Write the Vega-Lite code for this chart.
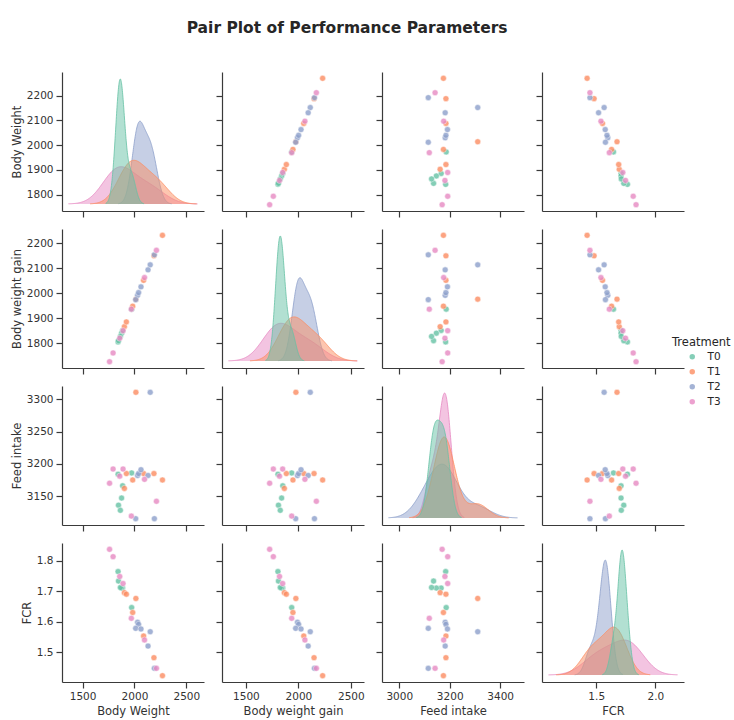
{
  "$schema": "https://vega.github.io/schema/vega-lite/v6.json",
  "padding": {"left": 11, "top": 20, "right": 0, "bottom": 2},
  "background": "white",
  "title": {"text": "Pair Plot of Performance Parameters", "font": "DejaVu Sans", "fontSize": 15.5, "fontWeight": "bold", "color": "#262626", "anchor": "middle", "offset": 36, "dx": -24},
  "datasets": {
    "d": [
      {"Treatment": "T0", "Body Weight": 1842, "Body weight gain": 1805, "Feed intake": 3184, "FCR": 1.764},
      {"Treatment": "T0", "Body Weight": 1973, "Body weight gain": 1936, "Feed intake": 3186, "FCR": 1.646},
      {"Treatment": "T0", "Body Weight": 1886, "Body weight gain": 1851, "Feed intake": 3166, "FCR": 1.710},
      {"Treatment": "T0", "Body Weight": 1876, "Body weight gain": 1840, "Feed intake": 3147, "FCR": 1.710},
      {"Treatment": "T0", "Body Weight": 1846, "Body weight gain": 1810, "Feed intake": 3136, "FCR": 1.733},
      {"Treatment": "T0", "Body Weight": 1864, "Body weight gain": 1827, "Feed intake": 3128, "FCR": 1.712},
      {"Treatment": "T1", "Body Weight": 1903, "Body weight gain": 1866, "Feed intake": 3162, "FCR": 1.695},
      {"Treatment": "T1", "Body Weight": 1922, "Body weight gain": 1885, "Feed intake": 3185, "FCR": 1.690},
      {"Treatment": "T1", "Body Weight": 2014, "Body weight gain": 1976, "Feed intake": 3311, "FCR": 1.676},
      {"Treatment": "T1", "Body Weight": 1983, "Body weight gain": 1948, "Feed intake": 3175, "FCR": 1.630},
      {"Treatment": "T1", "Body Weight": 2088, "Body weight gain": 2051, "Feed intake": 3185, "FCR": 1.553},
      {"Treatment": "T1", "Body Weight": 2188, "Body weight gain": 2149, "Feed intake": 3185, "FCR": 1.482},
      {"Treatment": "T1", "Body Weight": 2270, "Body weight gain": 2231, "Feed intake": 3175, "FCR": 1.423},
      {"Treatment": "T2", "Body Weight": 2030, "Body weight gain": 1991, "Feed intake": 3182, "FCR": 1.598},
      {"Treatment": "T2", "Body Weight": 2040, "Body weight gain": 2002, "Feed intake": 3185, "FCR": 1.591},
      {"Treatment": "T2", "Body Weight": 2012, "Body weight gain": 1974, "Feed intake": 3115, "FCR": 1.578},
      {"Treatment": "T2", "Body Weight": 2063, "Body weight gain": 2025, "Feed intake": 3191, "FCR": 1.576},
      {"Treatment": "T2", "Body Weight": 2152, "Body weight gain": 2113, "Feed intake": 3311, "FCR": 1.567},
      {"Treatment": "T2", "Body Weight": 2131, "Body weight gain": 2093, "Feed intake": 3182, "FCR": 1.520},
      {"Treatment": "T2", "Body Weight": 2192, "Body weight gain": 2153, "Feed intake": 3115, "FCR": 1.447},
      {"Treatment": "T3", "Body Weight": 1760, "Body weight gain": 1726, "Feed intake": 3170, "FCR": 1.837},
      {"Treatment": "T3", "Body Weight": 1794, "Body weight gain": 1761, "Feed intake": 3192, "FCR": 1.813},
      {"Treatment": "T3", "Body Weight": 1858, "Body weight gain": 1820, "Feed intake": 3181, "FCR": 1.748},
      {"Treatment": "T3", "Body Weight": 1890, "Body weight gain": 1850, "Feed intake": 3192, "FCR": 1.725},
      {"Treatment": "T3", "Body Weight": 1970, "Body weight gain": 1936, "Feed intake": 3119, "FCR": 1.611},
      {"Treatment": "T3", "Body Weight": 2097, "Body weight gain": 2062, "Feed intake": 3176, "FCR": 1.540},
      {"Treatment": "T3", "Body Weight": 2212, "Body weight gain": 2171, "Feed intake": 3142, "FCR": 1.447}
    ]
  },
  "data": {"name": "d"},
  "columns": 4,
  "spacing": {"row": 18, "column": 18},
  "bounds": "flush",
  "resolve": {"scale": {"color": "independent"}, "legend": {"color": "independent"}},
  "concat": [
    {
      "width": 142, "height": 139,
      "layer": [
        {"layer": [
          {"transform": [{"filter": {"field": "Treatment", "equal": "T3"}}, {"density": "Body Weight", "groupby": ["Treatment"], "bandwidth": 132.1, "extent": [1363.7, 2608.3], "steps": 200, "counts": true, "as": ["value", "density"]}],
           "mark": {"type": "area", "fillOpacity": 0.5, "line": {"strokeWidth": 1, "strokeOpacity": 0.8}},
           "encoding": {"x": {"field": "value", "type": "quantitative", "scale": {"domain": [1301.5, 2670.5], "zero": false, "nice": false}, "axis": null},
                        "y": {"field": "density", "type": "quantitative", "stack": null, "scale": {"domainMin": 0, "zero": false, "nice": false, "padding": 7}, "axis": null},
                        "color": {"field": "Treatment", "type": "nominal", "scale": {"domain": ["T0", "T1", "T2", "T3"], "range": ["#66c2a5", "#fc8d62", "#8da0cb", "#e78ac3"]}, "legend": null}}},
          {"transform": [{"filter": {"field": "Treatment", "equal": "T2"}}, {"density": "Body Weight", "groupby": ["Treatment"], "bandwidth": 55.7, "extent": [1844.9, 2359.1], "steps": 200, "counts": true, "as": ["value", "density"]}],
           "mark": {"type": "area", "fillOpacity": 0.5, "line": {"strokeWidth": 1, "strokeOpacity": 0.8}},
           "encoding": {"x": {"field": "value", "type": "quantitative", "scale": {"domain": [1301.5, 2670.5], "zero": false, "nice": false}, "axis": null},
                        "y": {"field": "density", "type": "quantitative", "stack": null, "scale": {"domainMin": 0, "zero": false, "nice": false, "padding": 7}, "axis": null},
                        "color": {"field": "Treatment", "type": "nominal", "scale": {"domain": ["T0", "T1", "T2", "T3"], "range": ["#66c2a5", "#fc8d62", "#8da0cb", "#e78ac3"]}, "legend": null}}},
          {"transform": [{"filter": {"field": "Treatment", "equal": "T1"}}, {"density": "Body Weight", "groupby": ["Treatment"], "bandwidth": 110.0, "extent": [1573, 2600], "steps": 200, "counts": true, "as": ["value", "density"]}],
           "mark": {"type": "area", "fillOpacity": 0.5, "line": {"strokeWidth": 1, "strokeOpacity": 0.8}},
           "encoding": {"x": {"field": "value", "type": "quantitative", "scale": {"domain": [1301.5, 2670.5], "zero": false, "nice": false}, "axis": null},
                        "y": {"field": "density", "type": "quantitative", "stack": null, "scale": {"domainMin": 0, "zero": false, "nice": false, "padding": 7}, "axis": null},
                        "color": {"field": "Treatment", "type": "nominal", "scale": {"domain": ["T0", "T1", "T2", "T3"], "range": ["#66c2a5", "#fc8d62", "#8da0cb", "#e78ac3"]}, "legend": null}}},
          {"transform": [{"filter": {"field": "Treatment", "equal": "T0"}}, {"density": "Body Weight", "groupby": ["Treatment"], "bandwidth": 39.8, "extent": [1722.6, 2092.4], "steps": 200, "counts": true, "as": ["value", "density"]}],
           "mark": {"type": "area", "fillOpacity": 0.5, "line": {"strokeWidth": 1, "strokeOpacity": 0.8}},
           "encoding": {"x": {"field": "value", "type": "quantitative", "scale": {"domain": [1301.5, 2670.5], "zero": false, "nice": false}, "axis": null},
                        "y": {"field": "density", "type": "quantitative", "stack": null, "scale": {"domainMin": 0, "zero": false, "nice": false, "padding": 7}, "axis": null},
                        "color": {"field": "Treatment", "type": "nominal", "scale": {"domain": ["T0", "T1", "T2", "T3"], "range": ["#66c2a5", "#fc8d62", "#8da0cb", "#e78ac3"]}, "legend": null}}}
        ]},
        {"mark": {"type": "point", "opacity": 0},
         "encoding": {"x": {"field": "Body Weight", "type": "quantitative", "scale": {"domain": [1301.5, 2670.5], "zero": false, "nice": false}, "axis": {"values": [1500, 2000, 2500], "labels": false, "title": null}},
                      "y": {"field": "Body Weight", "type": "quantitative", "scale": {"domain": [1734.5, 2295.5], "zero": false, "nice": false}, "axis": {"values": [1800, 1900, 2000, 2100, 2200], "title": "Body Weight", "format": "d"}}}}
      ],
      "resolve": {"scale": {"x": "independent", "y": "independent"}}
    },
    {
      "width": 142, "height": 139,
      "mark": {"type": "circle", "size": 36, "opacity": 0.8, "stroke": "#ffffff", "strokeWidth": 0.5},
      "encoding": {"x": {"field": "Body weight gain", "type": "quantitative", "scale": {"domain": [1271.8, 2625.2], "zero": false, "nice": false}, "axis": {"values": [1500, 2000, 2500], "labels": false, "title": null}},
                   "y": {"field": "Body Weight", "type": "quantitative", "scale": {"domain": [1734.5, 2295.5], "zero": false, "nice": false}, "axis": {"values": [1800, 1900, 2000, 2100, 2200], "labels": false, "title": null}},
                   "color": {"field": "Treatment", "type": "nominal", "scale": {"domain": ["T0", "T1", "T2", "T3"], "range": ["#66c2a5", "#fc8d62", "#8da0cb", "#e78ac3"]}, "legend": null}}
    },
    {
      "width": 142, "height": 139,
      "mark": {"type": "circle", "size": 36, "opacity": 0.8, "stroke": "#ffffff", "strokeWidth": 0.5},
      "encoding": {"x": {"field": "Feed intake", "type": "quantitative", "scale": {"domain": [2931.6, 3494.4], "zero": false, "nice": false}, "axis": {"values": [3000, 3200, 3400], "labels": false, "title": null}},
                   "y": {"field": "Body Weight", "type": "quantitative", "scale": {"domain": [1734.5, 2295.5], "zero": false, "nice": false}, "axis": {"values": [1800, 1900, 2000, 2100, 2200], "labels": false, "title": null}},
                   "color": {"field": "Treatment", "type": "nominal", "scale": {"domain": ["T0", "T1", "T2", "T3"], "range": ["#66c2a5", "#fc8d62", "#8da0cb", "#e78ac3"]}, "legend": null}}
    },
    {
      "width": 142, "height": 139,
      "mark": {"type": "circle", "size": 36, "opacity": 0.8, "stroke": "#ffffff", "strokeWidth": 0.5},
      "encoding": {"x": {"field": "FCR", "type": "quantitative", "scale": {"domain": [1.0414, 2.2426], "zero": false, "nice": false}, "axis": {"values": [1.5, 2.0], "labels": false, "title": null}},
                   "y": {"field": "Body Weight", "type": "quantitative", "scale": {"domain": [1734.5, 2295.5], "zero": false, "nice": false}, "axis": {"values": [1800, 1900, 2000, 2100, 2200], "labels": false, "title": null}},
                   "color": {"field": "Treatment", "type": "nominal", "scale": {"domain": ["T0", "T1", "T2", "T3"], "range": ["#66c2a5", "#fc8d62", "#8da0cb", "#e78ac3"]}, "legend": null}}
    },
    {
      "width": 142, "height": 139,
      "mark": {"type": "circle", "size": 36, "opacity": 0.8, "stroke": "#ffffff", "strokeWidth": 0.5},
      "encoding": {"x": {"field": "Body Weight", "type": "quantitative", "scale": {"domain": [1301.5, 2670.5], "zero": false, "nice": false}, "axis": {"values": [1500, 2000, 2500], "labels": false, "title": null}},
                   "y": {"field": "Body weight gain", "type": "quantitative", "scale": {"domain": [1700.75, 2256.25], "zero": false, "nice": false}, "axis": {"values": [1800, 1900, 2000, 2100, 2200], "title": "Body weight gain", "format": "d"}},
                   "color": {"field": "Treatment", "type": "nominal", "scale": {"domain": ["T0", "T1", "T2", "T3"], "range": ["#66c2a5", "#fc8d62", "#8da0cb", "#e78ac3"]}, "legend": null}}
    },
    {
      "width": 142, "height": 139,
      "layer": [
        {"layer": [
          {"transform": [{"filter": {"field": "Treatment", "equal": "T3"}}, {"density": "Body weight gain", "groupby": ["Treatment"], "bandwidth": 130.9, "extent": [1333.3, 2563.7], "steps": 200, "counts": true, "as": ["value", "density"]}],
           "mark": {"type": "area", "fillOpacity": 0.5, "line": {"strokeWidth": 1, "strokeOpacity": 0.8}},
           "encoding": {"x": {"field": "value", "type": "quantitative", "scale": {"domain": [1271.8, 2625.2], "zero": false, "nice": false}, "axis": null},
                        "y": {"field": "density", "type": "quantitative", "stack": null, "scale": {"domainMin": 0, "zero": false, "nice": false, "padding": 7}, "axis": null},
                        "color": {"field": "Treatment", "type": "nominal", "scale": {"domain": ["T0", "T1", "T2", "T3"], "range": ["#66c2a5", "#fc8d62", "#8da0cb", "#e78ac3"]}, "legend": null}}},
          {"transform": [{"filter": {"field": "Treatment", "equal": "T2"}}, {"density": "Body weight gain", "groupby": ["Treatment"], "bandwidth": 55.4, "extent": [1807.8, 2319.2], "steps": 200, "counts": true, "as": ["value", "density"]}],
           "mark": {"type": "area", "fillOpacity": 0.5, "line": {"strokeWidth": 1, "strokeOpacity": 0.8}},
           "encoding": {"x": {"field": "value", "type": "quantitative", "scale": {"domain": [1271.8, 2625.2], "zero": false, "nice": false}, "axis": null},
                        "y": {"field": "density", "type": "quantitative", "stack": null, "scale": {"domainMin": 0, "zero": false, "nice": false, "padding": 7}, "axis": null},
                        "color": {"field": "Treatment", "type": "nominal", "scale": {"domain": ["T0", "T1", "T2", "T3"], "range": ["#66c2a5", "#fc8d62", "#8da0cb", "#e78ac3"]}, "legend": null}}},
          {"transform": [{"filter": {"field": "Treatment", "equal": "T1"}}, {"density": "Body weight gain", "groupby": ["Treatment"], "bandwidth": 109.2, "extent": [1538.4, 2558.6], "steps": 200, "counts": true, "as": ["value", "density"]}],
           "mark": {"type": "area", "fillOpacity": 0.5, "line": {"strokeWidth": 1, "strokeOpacity": 0.8}},
           "encoding": {"x": {"field": "value", "type": "quantitative", "scale": {"domain": [1271.8, 2625.2], "zero": false, "nice": false}, "axis": null},
                        "y": {"field": "density", "type": "quantitative", "stack": null, "scale": {"domainMin": 0, "zero": false, "nice": false, "padding": 7}, "axis": null},
                        "color": {"field": "Treatment", "type": "nominal", "scale": {"domain": ["T0", "T1", "T2", "T3"], "range": ["#66c2a5", "#fc8d62", "#8da0cb", "#e78ac3"]}, "legend": null}}},
          {"transform": [{"filter": {"field": "Treatment", "equal": "T0"}}, {"density": "Body weight gain", "groupby": ["Treatment"], "bandwidth": 39.7, "extent": [1685.9, 2055.1], "steps": 200, "counts": true, "as": ["value", "density"]}],
           "mark": {"type": "area", "fillOpacity": 0.5, "line": {"strokeWidth": 1, "strokeOpacity": 0.8}},
           "encoding": {"x": {"field": "value", "type": "quantitative", "scale": {"domain": [1271.8, 2625.2], "zero": false, "nice": false}, "axis": null},
                        "y": {"field": "density", "type": "quantitative", "stack": null, "scale": {"domainMin": 0, "zero": false, "nice": false, "padding": 7}, "axis": null},
                        "color": {"field": "Treatment", "type": "nominal", "scale": {"domain": ["T0", "T1", "T2", "T3"], "range": ["#66c2a5", "#fc8d62", "#8da0cb", "#e78ac3"]}, "legend": null}}}
        ]},
        {"mark": {"type": "point", "opacity": 0},
         "encoding": {"x": {"field": "Body weight gain", "type": "quantitative", "scale": {"domain": [1271.8, 2625.2], "zero": false, "nice": false}, "axis": {"values": [1500, 2000, 2500], "labels": false, "title": null}},
                      "y": {"field": "Body weight gain", "type": "quantitative", "scale": {"domain": [1700.75, 2256.25], "zero": false, "nice": false}, "axis": {"values": [1800, 1900, 2000, 2100, 2200], "labels": false, "title": null}}}}
      ],
      "resolve": {"scale": {"x": "independent", "y": "independent"}}
    },
    {
      "width": 142, "height": 139,
      "mark": {"type": "circle", "size": 36, "opacity": 0.8, "stroke": "#ffffff", "strokeWidth": 0.5},
      "encoding": {"x": {"field": "Feed intake", "type": "quantitative", "scale": {"domain": [2931.6, 3494.4], "zero": false, "nice": false}, "axis": {"values": [3000, 3200, 3400], "labels": false, "title": null}},
                   "y": {"field": "Body weight gain", "type": "quantitative", "scale": {"domain": [1700.75, 2256.25], "zero": false, "nice": false}, "axis": {"values": [1800, 1900, 2000, 2100, 2200], "labels": false, "title": null}},
                   "color": {"field": "Treatment", "type": "nominal", "scale": {"domain": ["T0", "T1", "T2", "T3"], "range": ["#66c2a5", "#fc8d62", "#8da0cb", "#e78ac3"]}, "legend": null}}
    },
    {
      "width": 142, "height": 139,
      "mark": {"type": "circle", "size": 36, "opacity": 0.8, "stroke": "#ffffff", "strokeWidth": 0.5},
      "encoding": {"x": {"field": "FCR", "type": "quantitative", "scale": {"domain": [1.0414, 2.2426], "zero": false, "nice": false}, "axis": {"values": [1.5, 2.0], "labels": false, "title": null}},
                   "y": {"field": "Body weight gain", "type": "quantitative", "scale": {"domain": [1700.75, 2256.25], "zero": false, "nice": false}, "axis": {"values": [1800, 1900, 2000, 2100, 2200], "labels": false, "title": null}},
                   "color": {"field": "Treatment", "type": "nominal", "scale": {"domain": ["T0", "T1", "T2", "T3"], "range": ["#66c2a5", "#fc8d62", "#8da0cb", "#e78ac3"]},
                             "legend": {"orient": "none", "legendX": 130, "legendY": 108, "title": "Treatment", "padding": 0, "titleFontSize": 11.5, "titleFontWeight": "normal", "titleFont": "DejaVu Sans", "titleColor": "#262626", "titlePadding": 3, "labelFont": "DejaVu Sans", "labelFontSize": 10.5, "labelColor": "#262626", "labelOffset": 10, "symbolType": "circle", "symbolSize": 30, "symbolOpacity": 0.8, "symbolStrokeWidth": 0, "symbolOffset": 15, "rowPadding": 4}}}
    },
    {
      "width": 142, "height": 139,
      "mark": {"type": "circle", "size": 36, "opacity": 0.8, "stroke": "#ffffff", "strokeWidth": 0.5},
      "encoding": {"x": {"field": "Body Weight", "type": "quantitative", "scale": {"domain": [1301.5, 2670.5], "zero": false, "nice": false}, "axis": {"values": [1500, 2000, 2500], "labels": false, "title": null}},
                   "y": {"field": "Feed intake", "type": "quantitative", "scale": {"domain": [3105.2, 3320.8], "zero": false, "nice": false}, "axis": {"values": [3150, 3200, 3250, 3300], "title": "Feed intake", "format": "d"}},
                   "color": {"field": "Treatment", "type": "nominal", "scale": {"domain": ["T0", "T1", "T2", "T3"], "range": ["#66c2a5", "#fc8d62", "#8da0cb", "#e78ac3"]}, "legend": null}}
    },
    {
      "width": 142, "height": 139,
      "mark": {"type": "circle", "size": 36, "opacity": 0.8, "stroke": "#ffffff", "strokeWidth": 0.5},
      "encoding": {"x": {"field": "Body weight gain", "type": "quantitative", "scale": {"domain": [1271.8, 2625.2], "zero": false, "nice": false}, "axis": {"values": [1500, 2000, 2500], "labels": false, "title": null}},
                   "y": {"field": "Feed intake", "type": "quantitative", "scale": {"domain": [3105.2, 3320.8], "zero": false, "nice": false}, "axis": {"values": [3150, 3200, 3250, 3300], "labels": false, "title": null}},
                   "color": {"field": "Treatment", "type": "nominal", "scale": {"domain": ["T0", "T1", "T2", "T3"], "range": ["#66c2a5", "#fc8d62", "#8da0cb", "#e78ac3"]}, "legend": null}}
    },
    {
      "width": 142, "height": 139,
      "layer": [
        {"layer": [
          {"transform": [{"filter": {"field": "Treatment", "equal": "T3"}}, {"density": "Feed intake", "groupby": ["Treatment"], "bandwidth": 21.9, "extent": [3053.3, 3257.7], "steps": 200, "counts": true, "as": ["value", "density"]}],
           "mark": {"type": "area", "fillOpacity": 0.5, "line": {"strokeWidth": 1, "strokeOpacity": 0.8}},
           "encoding": {"x": {"field": "value", "type": "quantitative", "scale": {"domain": [2931.6, 3494.4], "zero": false, "nice": false}, "axis": null},
                        "y": {"field": "density", "type": "quantitative", "stack": null, "scale": {"domainMin": 0, "zero": false, "nice": false, "padding": 7}, "axis": null},
                        "color": {"field": "Treatment", "type": "nominal", "scale": {"domain": ["T0", "T1", "T2", "T3"], "range": ["#66c2a5", "#fc8d62", "#8da0cb", "#e78ac3"]}, "legend": null}}},
          {"transform": [{"filter": {"field": "Treatment", "equal": "T2"}}, {"density": "Feed intake", "groupby": ["Treatment"], "bandwidth": 52.6, "extent": [2957.2, 3468.8], "steps": 200, "counts": true, "as": ["value", "density"]}],
           "mark": {"type": "area", "fillOpacity": 0.5, "line": {"strokeWidth": 1, "strokeOpacity": 0.8}},
           "encoding": {"x": {"field": "value", "type": "quantitative", "scale": {"domain": [2931.6, 3494.4], "zero": false, "nice": false}, "axis": null},
                        "y": {"field": "density", "type": "quantitative", "stack": null, "scale": {"domainMin": 0, "zero": false, "nice": false, "padding": 7}, "axis": null},
                        "color": {"field": "Treatment", "type": "nominal", "scale": {"domain": ["T0", "T1", "T2", "T3"], "range": ["#66c2a5", "#fc8d62", "#8da0cb", "#e78ac3"]}, "legend": null}}},
          {"transform": [{"filter": {"field": "Treatment", "equal": "T1"}}, {"density": "Feed intake", "groupby": ["Treatment"], "bandwidth": 41.0, "extent": [3039, 3434], "steps": 200, "counts": true, "as": ["value", "density"]}],
           "mark": {"type": "area", "fillOpacity": 0.5, "line": {"strokeWidth": 1, "strokeOpacity": 0.8}},
           "encoding": {"x": {"field": "value", "type": "quantitative", "scale": {"domain": [2931.6, 3494.4], "zero": false, "nice": false}, "axis": null},
                        "y": {"field": "density", "type": "quantitative", "stack": null, "scale": {"domainMin": 0, "zero": false, "nice": false, "padding": 7}, "axis": null},
                        "color": {"field": "Treatment", "type": "nominal", "scale": {"domain": ["T0", "T1", "T2", "T3"], "range": ["#66c2a5", "#fc8d62", "#8da0cb", "#e78ac3"]}, "legend": null}}},
          {"transform": [{"filter": {"field": "Treatment", "equal": "T0"}}, {"density": "Feed intake", "groupby": ["Treatment"], "bandwidth": 20.4, "extent": [3066.8, 3247.2], "steps": 200, "counts": true, "as": ["value", "density"]}],
           "mark": {"type": "area", "fillOpacity": 0.5, "line": {"strokeWidth": 1, "strokeOpacity": 0.8}},
           "encoding": {"x": {"field": "value", "type": "quantitative", "scale": {"domain": [2931.6, 3494.4], "zero": false, "nice": false}, "axis": null},
                        "y": {"field": "density", "type": "quantitative", "stack": null, "scale": {"domainMin": 0, "zero": false, "nice": false, "padding": 7}, "axis": null},
                        "color": {"field": "Treatment", "type": "nominal", "scale": {"domain": ["T0", "T1", "T2", "T3"], "range": ["#66c2a5", "#fc8d62", "#8da0cb", "#e78ac3"]}, "legend": null}}}
        ]},
        {"mark": {"type": "point", "opacity": 0},
         "encoding": {"x": {"field": "Feed intake", "type": "quantitative", "scale": {"domain": [2931.6, 3494.4], "zero": false, "nice": false}, "axis": {"values": [3000, 3200, 3400], "labels": false, "title": null}},
                      "y": {"field": "Feed intake", "type": "quantitative", "scale": {"domain": [3105.2, 3320.8], "zero": false, "nice": false}, "axis": {"values": [3150, 3200, 3250, 3300], "labels": false, "title": null}}}}
      ],
      "resolve": {"scale": {"x": "independent", "y": "independent"}}
    },
    {
      "width": 142, "height": 139,
      "mark": {"type": "circle", "size": 36, "opacity": 0.8, "stroke": "#ffffff", "strokeWidth": 0.5},
      "encoding": {"x": {"field": "FCR", "type": "quantitative", "scale": {"domain": [1.0414, 2.2426], "zero": false, "nice": false}, "axis": {"values": [1.5, 2.0], "labels": false, "title": null}},
                   "y": {"field": "Feed intake", "type": "quantitative", "scale": {"domain": [3105.2, 3320.8], "zero": false, "nice": false}, "axis": {"values": [3150, 3200, 3250, 3300], "labels": false, "title": null}},
                   "color": {"field": "Treatment", "type": "nominal", "scale": {"domain": ["T0", "T1", "T2", "T3"], "range": ["#66c2a5", "#fc8d62", "#8da0cb", "#e78ac3"]}, "legend": null}}
    },
    {
      "width": 142, "height": 139,
      "mark": {"type": "circle", "size": 36, "opacity": 0.8, "stroke": "#ffffff", "strokeWidth": 0.5},
      "encoding": {"x": {"field": "Body Weight", "type": "quantitative", "scale": {"domain": [1301.5, 2670.5], "zero": false, "nice": false}, "axis": {"values": [1500, 2000, 2500], "title": "Body Weight", "format": "d"}},
                   "y": {"field": "FCR", "type": "quantitative", "scale": {"domain": [1.4023, 1.8577], "zero": false, "nice": false}, "axis": {"values": [1.5, 1.6, 1.7, 1.8], "title": "FCR", "format": ".1f"}},
                   "color": {"field": "Treatment", "type": "nominal", "scale": {"domain": ["T0", "T1", "T2", "T3"], "range": ["#66c2a5", "#fc8d62", "#8da0cb", "#e78ac3"]}, "legend": null}}
    },
    {
      "width": 142, "height": 139,
      "mark": {"type": "circle", "size": 36, "opacity": 0.8, "stroke": "#ffffff", "strokeWidth": 0.5},
      "encoding": {"x": {"field": "Body weight gain", "type": "quantitative", "scale": {"domain": [1271.8, 2625.2], "zero": false, "nice": false}, "axis": {"values": [1500, 2000, 2500], "title": "Body weight gain", "format": "d"}},
                   "y": {"field": "FCR", "type": "quantitative", "scale": {"domain": [1.4023, 1.8577], "zero": false, "nice": false}, "axis": {"values": [1.5, 1.6, 1.7, 1.8], "labels": false, "title": null}},
                   "color": {"field": "Treatment", "type": "nominal", "scale": {"domain": ["T0", "T1", "T2", "T3"], "range": ["#66c2a5", "#fc8d62", "#8da0cb", "#e78ac3"]}, "legend": null}}
    },
    {
      "width": 142, "height": 139,
      "mark": {"type": "circle", "size": 36, "opacity": 0.8, "stroke": "#ffffff", "strokeWidth": 0.5},
      "encoding": {"x": {"field": "Feed intake", "type": "quantitative", "scale": {"domain": [2931.6, 3494.4], "zero": false, "nice": false}, "axis": {"values": [3000, 3200, 3400], "title": "Feed intake", "format": "d"}},
                   "y": {"field": "FCR", "type": "quantitative", "scale": {"domain": [1.4023, 1.8577], "zero": false, "nice": false}, "axis": {"values": [1.5, 1.6, 1.7, 1.8], "labels": false, "title": null}},
                   "color": {"field": "Treatment", "type": "nominal", "scale": {"domain": ["T0", "T1", "T2", "T3"], "range": ["#66c2a5", "#fc8d62", "#8da0cb", "#e78ac3"]}, "legend": null}}
    },
    {
      "width": 142, "height": 139,
      "layer": [
        {"layer": [
          {"transform": [{"filter": {"field": "Treatment", "equal": "T3"}}, {"density": "FCR", "groupby": ["Treatment"], "bandwidth": 0.117, "extent": [1.096, 2.188], "steps": 200, "counts": true, "as": ["value", "density"]}],
           "mark": {"type": "area", "fillOpacity": 0.5, "line": {"strokeWidth": 1, "strokeOpacity": 0.8}},
           "encoding": {"x": {"field": "value", "type": "quantitative", "scale": {"domain": [1.0414, 2.2426], "zero": false, "nice": false}, "axis": null},
                        "y": {"field": "density", "type": "quantitative", "stack": null, "scale": {"domainMin": 0, "zero": false, "nice": false, "padding": 7}, "axis": null},
                        "color": {"field": "Treatment", "type": "nominal", "scale": {"domain": ["T0", "T1", "T2", "T3"], "range": ["#66c2a5", "#fc8d62", "#8da0cb", "#e78ac3"]}, "legend": null}}},
          {"transform": [{"filter": {"field": "Treatment", "equal": "T2"}}, {"density": "FCR", "groupby": ["Treatment"], "bandwidth": 0.0429, "extent": [1.3183, 1.7267], "steps": 200, "counts": true, "as": ["value", "density"]}],
           "mark": {"type": "area", "fillOpacity": 0.5, "line": {"strokeWidth": 1, "strokeOpacity": 0.8}},
           "encoding": {"x": {"field": "value", "type": "quantitative", "scale": {"domain": [1.0414, 2.2426], "zero": false, "nice": false}, "axis": null},
                        "y": {"field": "density", "type": "quantitative", "stack": null, "scale": {"domainMin": 0, "zero": false, "nice": false, "padding": 7}, "axis": null},
                        "color": {"field": "Treatment", "type": "nominal", "scale": {"domain": ["T0", "T1", "T2", "T3"], "range": ["#66c2a5", "#fc8d62", "#8da0cb", "#e78ac3"]}, "legend": null}}},
          {"transform": [{"filter": {"field": "Treatment", "equal": "T1"}}, {"density": "FCR", "groupby": ["Treatment"], "bandwidth": 0.0873, "extent": [1.1611, 1.9569], "steps": 200, "counts": true, "as": ["value", "density"]}],
           "mark": {"type": "area", "fillOpacity": 0.5, "line": {"strokeWidth": 1, "strokeOpacity": 0.8}},
           "encoding": {"x": {"field": "value", "type": "quantitative", "scale": {"domain": [1.0414, 2.2426], "zero": false, "nice": false}, "axis": null},
                        "y": {"field": "density", "type": "quantitative", "stack": null, "scale": {"domainMin": 0, "zero": false, "nice": false, "padding": 7}, "axis": null},
                        "color": {"field": "Treatment", "type": "nominal", "scale": {"domain": ["T0", "T1", "T2", "T3"], "range": ["#66c2a5", "#fc8d62", "#8da0cb", "#e78ac3"]}, "legend": null}}},
          {"transform": [{"filter": {"field": "Treatment", "equal": "T0"}}, {"density": "FCR", "groupby": ["Treatment"], "bandwidth": 0.0321, "extent": [1.5497, 1.8603], "steps": 200, "counts": true, "as": ["value", "density"]}],
           "mark": {"type": "area", "fillOpacity": 0.5, "line": {"strokeWidth": 1, "strokeOpacity": 0.8}},
           "encoding": {"x": {"field": "value", "type": "quantitative", "scale": {"domain": [1.0414, 2.2426], "zero": false, "nice": false}, "axis": null},
                        "y": {"field": "density", "type": "quantitative", "stack": null, "scale": {"domainMin": 0, "zero": false, "nice": false, "padding": 7}, "axis": null},
                        "color": {"field": "Treatment", "type": "nominal", "scale": {"domain": ["T0", "T1", "T2", "T3"], "range": ["#66c2a5", "#fc8d62", "#8da0cb", "#e78ac3"]}, "legend": null}}}
        ]},
        {"mark": {"type": "point", "opacity": 0},
         "encoding": {"x": {"field": "FCR", "type": "quantitative", "scale": {"domain": [1.0414, 2.2426], "zero": false, "nice": false}, "axis": {"values": [1.5, 2.0], "title": "FCR", "format": ".1f"}},
                      "y": {"field": "FCR", "type": "quantitative", "scale": {"domain": [1.4023, 1.8577], "zero": false, "nice": false}, "axis": {"values": [1.5, 1.6, 1.7, 1.8], "labels": false, "title": null}}}}
      ],
      "resolve": {"scale": {"x": "independent", "y": "independent"}}
    }
  ],
  "config": {
    "view": {"stroke": null},
    "axis": {"grid": false, "domainColor": "#3a3a3a", "tickColor": "#3a3a3a", "domainWidth": 1.2, "tickWidth": 1.2, "tickSize": 6, "labelFont": "DejaVu Sans", "labelFontSize": 10.5, "labelColor": "#333333", "labelPadding": 3, "titleFont": "DejaVu Sans", "titleFontSize": 11.5, "titleFontWeight": "normal", "titleColor": "#333333", "titlePadding": 4, "labelFlush": false, "labelOverlap": false}
  }
}
